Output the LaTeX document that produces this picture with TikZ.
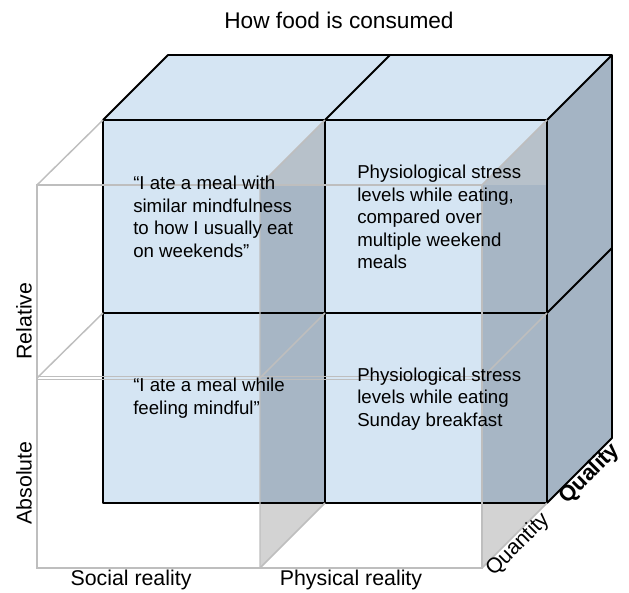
\documentclass[tikz,border=0pt]{standalone}
\usepackage{fontspec}
\setmainfont{Liberation Sans}

\definecolor{faceblue}{HTML}{D5E5F3}
\definecolor{sideblue}{HTML}{A4B4C4}
\definecolor{edgegrey}{HTML}{BEBEBE}

\tikzset{
	backedge/.style={draw=black, line width=1.4pt, line join=round},
	frontedge/.style={draw=edgegrey, line width=1.1pt},
	thinedge/.style={draw=edgegrey, line width=0.7pt},
	sidetint/.style={fill=gray, fill opacity=0.35},
	sidetintdark/.style={fill=sideblue, fill opacity=0.8},
	celltext/.style={anchor=west, align=left, inner sep=0pt, font=\fontsize{14}{16.9}\selectfont},
	axislabel/.style={inner sep=0pt, font=\fontsize{16}{19}\selectfont},
	depthlabel/.style={inner sep=0pt, rotate=45, font=\fontsize{16}{19}\selectfont},
}

\begin{document}
\begin{tikzpicture}[x=0.75pt, y=-0.75pt]

	\useasboundingbox (0,0) rectangle (629,593);

	\coordinate (q00) at (103,503);
	\coordinate (q10) at (325,503);
	\coordinate (q20) at (547,503);
	\coordinate (q01) at (103,313);
	\coordinate (q11) at (325,313);
	\coordinate (q21) at (547,313);
	\coordinate (q02) at (103,120);
	\coordinate (q12) at (325,120);
	\coordinate (q22) at (547,120);

	\coordinate (r02) at (168,55);
	\coordinate (r12) at (390,55);
	\coordinate (r22) at (612,55);
	\coordinate (r21) at (612,248);
	\coordinate (r20) at (612,438);

	\coordinate (p00) at (37,568);
	\coordinate (p10) at (260,568);
	\coordinate (p20) at (482,568);
	\coordinate (p01) at (37,378);
	\coordinate (p11) at (260,378);
	\coordinate (p21) at (482,378);
	\coordinate (p02) at (37,185);
	\coordinate (p12) at (260,185);
	\coordinate (p22) at (482,185);

	\fill[faceblue] (q00) rectangle (q22);
	\fill[faceblue] (q02) -- (r02) -- (r22) -- (q22) -- cycle;
	\fill[sideblue] (q22) -- (r22) -- (r20) -- (q20) -- cycle;

	\fill[sidetint] (p12) -- (q12) -- (q10) -- (p10) -- cycle;
	\fill[sidetint] (p22) -- (q22) -- (q20) -- (p20) -- cycle;
	\fill[sidetintdark] (p12) rectangle (q10);
	\fill[sidetintdark] (p22) rectangle (q20);

	\draw[backedge] (q00) rectangle (q22);
	\draw[backedge] (q10) -- (q12) -- (r12);
	\draw[backedge] (q01) -- (q21) -- (r21);
	\draw[backedge] (q02) -- (r02) -- (r22) -- (r20) -- (q20);
	\draw[backedge] (q22) -- (r22);

	\draw[frontedge] (p00) rectangle (p22);
	\draw[frontedge] (p10) -- (p12) -- (q12);
	\draw[frontedge] (p22) -- (q22);
	\draw[frontedge] (p02) -- (q02);
	\draw[frontedge] (p01) -- (q01);
	\draw[frontedge] (p11) -- (q11);
	\draw[frontedge] (p21) -- (q21);
	\draw[frontedge] (p10) -- (q10);
	\draw[frontedge] (p20) -- (q20);
	\draw[thinedge] ([yshift=1.1pt]p01) -- ([yshift=1.1pt]p21);
	\draw[thinedge] ([yshift=-1.1pt]p01) -- ([yshift=-1.1pt]p21);

	\node[inner sep=0pt, font=\fontsize{17}{20}\selectfont] (head) at (339,20) {How food is consumed};

	\node[celltext] (socrel) at (133,217) {“I ate a meal with\\similar mindfulness\\to how I usually eat\\on weekends”};
	\node[celltext] (physrel) at (357,217) {Physiological stress\\levels while eating,\\compared over\\multiple weekend\\meals};
	\node[celltext] (socabs) at (133,398) {“I ate a meal while\\feeling mindful”};
	\node[celltext] (physabs) at (357,399) {Physiological stress\\levels while eating\\Sunday breakfast};

	\node[axislabel, rotate=90] (rel) at (24,321) {Relative};
	\node[axislabel, rotate=90] (abs) at (24,483) {Absolute};
	\node[axislabel] (soc) at (131,580) {Social reality};
	\node[axislabel] (phys) at (351,580) {Physical reality};

	\node[depthlabel] (qty) at (518,545) {Quantity};
	\node[depthlabel, font=\fontsize{16.5}{19}\selectfont\bfseries] (qly) at (590,474) {Quality};

\end{tikzpicture}
\end{document}
